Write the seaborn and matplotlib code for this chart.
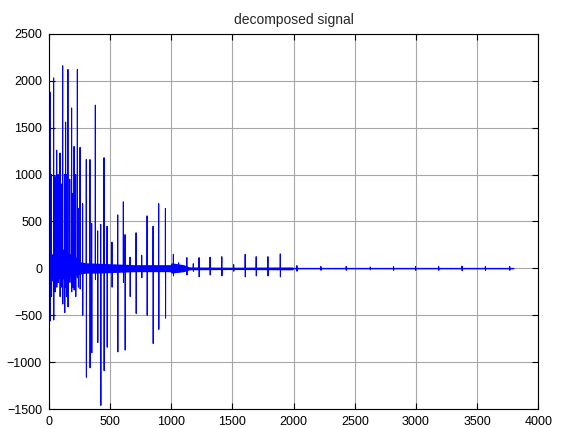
import numpy as np
import pandas as pd
import seaborn as sns
import matplotlib
matplotlib.use("Agg")
import matplotlib.pyplot as plt

# large spikes: position, peak, trough
spike_x = [8, 20, 38, 50, 63, 75, 90, 100, 112, 128, 136, 145, 155, 170, 185, 195,
           205, 218, 232, 240, 254, 275, 305, 335, 349, 379, 398, 423, 450, 475,
           515, 562, 608, 622, 663, 712, 758, 802, 851, 897, 952]
spike_hi = [1880, 1000, 2030, 980, 1260, 1000, 1230, 900, 2160, 1000, 1560, 1000, 2120, 950,
            1710, 800, 1300, 1000, 2120, 640, 1290, 690, 1160, 1160, 480, 1740, 400, 470,
            1180, 450, 280, 570, 710, 360, 120, 380, 140, 560, 450, 690, 640]
spike_lo = [-560, -300, -550, -250, -200, -150, -300, -200, -380, -470, -200, -300, -410, -150,
            -250, -200, -230, -300, -100, -200, -220, -500, -1160, -1060, -900, -120, -790,
            -1460, -1090, -840, -200, -890, -150, -870, -300, -480, -100, -500, -800, -650, -530]

# smaller spikes after 1000 samples
mid_x = [1017, 1060, 1127, 1180, 1227, 1317, 1413, 1510, 1604, 1694, 1790, 1891]
mid_hi = [150, 60, 115, 50, 115, 120, 125, 40, 150, 125, 125, 155]
mid_lo = [-80, -40, -70, -30, -90, -70, -80, -30, -90, -80, -80, -90]

# tiny bursts in the tail
tail_x = [2027, 2223, 2430, 2627, 2817, 2997, 3186, 3377, 3568, 3767]
tail_hi = [30, 20, 20, 15, 20, 20, 20, 25, 20, 20]
tail_lo = [-30, -20, -20, -15, -20, -20, -20, -25, -20, -20]
signal_end = 3800

# noise band around zero
env_x = [0, 30, 60, 100, 140, 180, 220, 260, 300, 400, 500, 600, 700, 800, 900, 990,
         1000, 1100, 1150, 1500, 1950, 1990, 2000, 3800]
env_hi = [180, 150, 200, 220, 180, 150, 120, 70, 60, 55, 50, 45, 40, 40, 40, 40,
          60, 40, 15, 12, 15, 15, 5, 5]
env_lo = [-180, -120, -100, -120, -100, -80, -80, -60, -50, -50, -45, -40, -35, -35, -35, -35,
          -50, -35, -15, -12, -15, -15, -5, -5]

xs, ys = [0], [0]
for sx, hi, lo in zip(spike_x + mid_x + tail_x, spike_hi + mid_hi + tail_hi,
                      spike_lo + mid_lo + tail_lo):
    xs += [sx - 1, sx, sx + 1, sx + 2]
    ys += [0, hi, lo, 0]
xs.append(signal_end)
ys.append(0)
df = pd.DataFrame({"sample": xs, "value": ys})

sns.set_theme(style="ticks")
plt.rcParams["font.family"] = ["Liberation Sans", "DejaVu Sans"]

fig = plt.figure(figsize=(5.63, 4.28), dpi=100)
ax = fig.add_axes([0.087, 0.044, 0.869, 0.877])

ax.fill_between(env_x, env_lo, env_hi, color="#0000ff", linewidth=0)
sns.lineplot(data=df, x="sample", y="value", ax=ax, color="#0000ff",
             linewidth=0.75, estimator=None, sort=False)

ax.set_xlim(0, 4000)
ax.set_ylim(-1500, 2500)
ax.set_xticks(range(0, 4001, 500))
ax.set_yticks(range(-1500, 2501, 500))
ax.set_xlabel("")
ax.set_ylabel("")
ax.set_title("decomposed signal", fontsize=10, pad=7)
ax.grid(True, color="#a6a6a6", linewidth=0.8)
ax.set_axisbelow(True)
ax.tick_params(direction="in", top=True, right=True, labelsize=9, length=4,
               width=0.8, pad=5, colors="black")
for s in ax.spines.values():
    s.set_visible(True)
    s.set_color("black")
    s.set_linewidth(0.8)

fig.savefig("out.png", dpi=100)
